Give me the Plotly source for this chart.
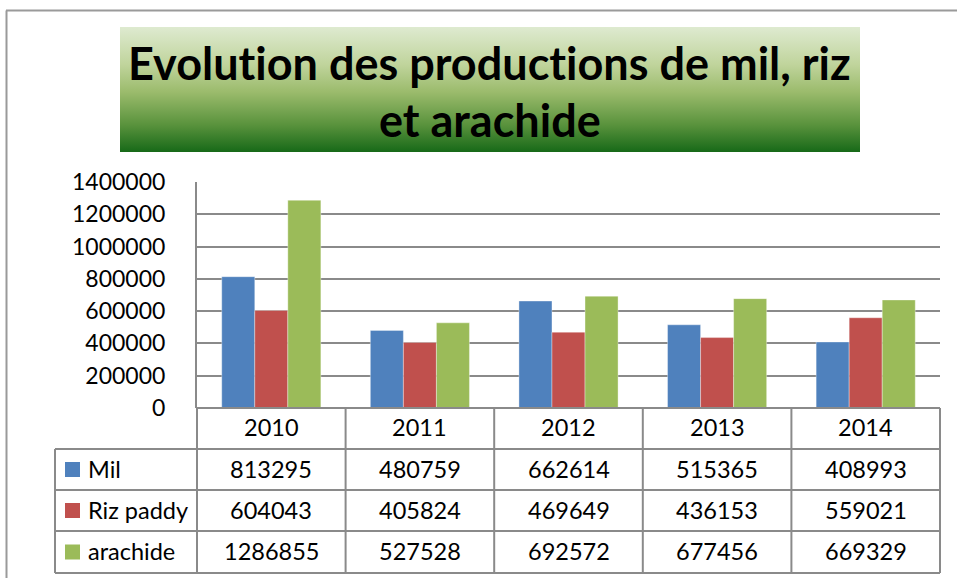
import base64
import plotly.graph_objects as go

# ---------------- data ----------------
years = ["2010", "2011", "2012", "2013", "2014"]
series_names = ["Mil", "Riz paddy", "arachide"]
mil = [813295, 480759, 662614, 515365, 408993]
riz_paddy = [604043, 405824, 469649, 436153, 559021]
arachide = [1286855, 527528, 692572, 677456, 669329]
series_values = [mil, riz_paddy, arachide]
colors = ["#4F81BD", "#C0504D", "#9BBB59"]
y_tick_values = [0, 200000, 400000, 600000, 800000, 1000000, 1200000, 1400000]
title_lines = ["Evolution des productions de mil, riz", "et arachide"]

# ---------------- layout helpers ----------------
W, H = 957, 578
FONT = "Lato"
GRID = "#8a8a8a"
LINE = "#8a8a8a"


def px(x):
    return x / W


def py(y):
    return 1 - y / H


def no_lig(s):
    # break the "ti" / "fi" style ligatures so glyphs look like the original
    return s.replace("ti", "t\u200ci")


plot_l, plot_r, plot_t, plot_b = 197, 940, 182, 408
table_l = 55
row_edges = [408, 449, 490, 531, 573]

fig = go.Figure()
for name, vals, col in zip(series_names, series_values, colors):
    fig.add_trace(go.Bar(x=years, y=vals, name=name,
                         marker=dict(color=col, line=dict(width=0.6, color="rgba(255,255,255,0.6)")),
                         showlegend=False))

shapes = []
annotations = []

# outer frame
shapes.append(dict(type="line", xref="paper", yref="paper", x0=px(6), x1=1.0, y0=py(10.5), y1=py(10.5),
                   line=dict(color="#9a9a9a", width=2)))
shapes.append(dict(type="line", xref="paper", yref="paper", x0=px(6.5), x1=px(6.5), y0=py(10.5), y1=0,
                   line=dict(color="#9a9a9a", width=2)))

# title gradient box (svg gradient image)
box_l, box_r, box_t, box_b = 120, 860, 27, 152
svg = ('<svg xmlns="http://www.w3.org/2000/svg" width="740" height="125" preserveAspectRatio="none">'
       '<defs><linearGradient id="g" x1="0" y1="0" x2="0" y2="1">'
       '<stop offset="0" stop-color="#DEEAD0"/>'
       '<stop offset="0.3" stop-color="#C0D49C"/>'
       '<stop offset="0.52" stop-color="#9BBB6C"/>'
       '<stop offset="0.78" stop-color="#5A933D"/>'
       '<stop offset="1" stop-color="#176918"/>'
       '</linearGradient></defs>'
       '<rect width="740" height="125" fill="url(#g)"/></svg>')
src = "data:image/svg+xml;base64," + base64.b64encode(svg.encode()).decode()
images = [dict(source=src, xref="paper", yref="paper", x=px(box_l), y=py(box_t),
               sizex=px(box_r) - px(box_l), sizey=py(box_t) - py(box_b),
               xanchor="left", yanchor="top", sizing="stretch", layer="below")]

for line_text, yc in zip(title_lines, [63, 120]):
    annotations.append(dict(text="<b>" + no_lig(line_text) + "</b>", xref="paper", yref="paper",
                            x=px((box_l + box_r) / 2), y=py(yc), showarrow=False,
                            xanchor="center", yanchor="middle",
                            font=dict(family=FONT, size=45, color="black")))

# table lines
for k, ry in enumerate(row_edges):
    x0 = plot_l if k == 0 else table_l
    shapes.append(dict(type="line", xref="paper", yref="paper", x0=px(x0), x1=px(plot_r),
                       y0=py(ry), y1=py(ry), line=dict(color=LINE, width=2)))
for k in range(len(years) + 1):
    shapes.append(dict(type="line", xref="x domain", yref="paper", x0=k / len(years), x1=k / len(years),
                       y0=py(row_edges[0]), y1=py(row_edges[-1]), line=dict(color=LINE, width=2)))
shapes.append(dict(type="line", xref="paper", yref="paper", x0=px(table_l), x1=px(table_l),
                   y0=py(row_edges[1]), y1=py(row_edges[-1]), line=dict(color=LINE, width=2)))

# year header (category index positions on the x axis)
hc = (row_edges[0] + row_edges[1]) / 2
for i, yr in enumerate(years):
    annotations.append(dict(text=yr, xref="x", yref="paper", x=i, y=py(hc - 1.5), showarrow=False,
                            xanchor="center", yanchor="middle", font=dict(family=FONT, size=23.5, color="black")))

# rows
for r, (name, vals, col) in enumerate(zip(series_names, series_values, colors)):
    yc = (row_edges[r + 1] + row_edges[r + 2]) / 2
    shapes.append(dict(type="rect", xref="paper", yref="paper", x0=px(65), x1=px(80),
                       y0=py(yc - 7.5), y1=py(yc + 7.5), fillcolor=col, line=dict(width=0)))
    annotations.append(dict(text=name, xref="paper", yref="paper", x=px(86), y=py(yc - 1), showarrow=False,
                            xanchor="left", yanchor="middle", font=dict(family=FONT, size=23.5, color="black")))
    for i, v in enumerate(vals):
        annotations.append(dict(text=str(v), xref="x", yref="paper", x=i, y=py(yc - 1), showarrow=False,
                                xanchor="center", yanchor="middle",
                                font=dict(family=FONT, size=23.5, color="black")))

fig.update_layout(
    width=W, height=H, autosize=False,
    margin=dict(l=0, r=0, t=0, b=0, pad=0),
    paper_bgcolor="white", plot_bgcolor="white",
    barmode="group", bargap=0.333, bargroupgap=0,
    shapes=shapes, annotations=annotations, images=images,
    xaxis=dict(type="category", categoryorder="array", categoryarray=years, range=[-0.5, len(years) - 0.5],
               domain=[px(plot_l), px(plot_r)], showticklabels=False, ticks="",
               showgrid=False, zeroline=False, showline=False, fixedrange=True, automargin=False),
    yaxis=dict(domain=[py(plot_b), py(plot_t)], range=[0, 1400000], tickvals=y_tick_values,
               tickformat="d", showgrid=True, gridcolor=GRID, gridwidth=1.6, zeroline=False,
               showline=True, linecolor=GRID, linewidth=2, ticks="", ticklabelstandoff=25,
               automargin=False,
               tickfont=dict(family=FONT, size=23, color="black"), fixedrange=True),
)

fig.write_html("out.html", config={"displayModeBar": False},
               post_script="document.body.style.margin='0';document.body.style.overflow='hidden';")
